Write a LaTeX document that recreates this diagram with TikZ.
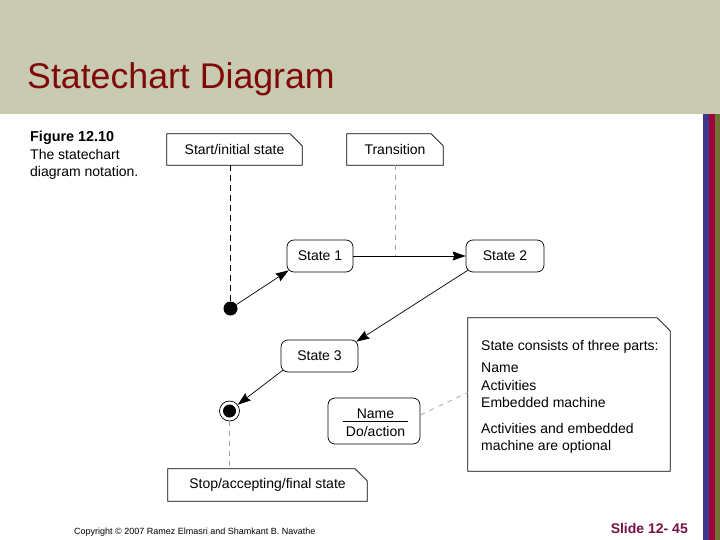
\documentclass[tikz,border=0pt]{standalone}
\usepackage{fontspec}
\setmainfont{Liberation Sans}
\usetikzlibrary{arrows.meta,calc}
\definecolor{band}{RGB}{200,202,177}
\definecolor{titlered}{RGB}{128,8,8}
\definecolor{barblue}{RGB}{60,56,140}
\definecolor{barred}{RGB}{160,0,58}
\definecolor{barolive}{RGB}{110,114,50}
\definecolor{slidered}{RGB}{120,16,64}
\definecolor{dashgray}{RGB}{160,160,160}
\newcommand\noteoutline[2]{\draw[noteline] (#1.north west) -- ([xshift=-#2]#1.north east) -- ([yshift=-#2]#1.north east) -- (#1.south east) -- (#1.south west) -- cycle;}
\begin{document}
\begin{tikzpicture}[x=1pt,y=-1pt,
  txt/.style={font=\fontsize{14}{16}\selectfont, inner sep=0pt},
  notebox/.style={txt, minimum height=31pt},
  noteline/.style={line width=0.7pt},
  statebox/.style={txt, draw, rounded corners=7pt, minimum height=32pt, line width=0.7pt},
  arr/.style={-{Stealth[length=13pt,width=9pt,inset=1.5pt]}, line width=0.7pt},
  blackdash/.style={line width=0.7pt, dash pattern=on 6pt off 4pt},
  graydash/.style={line width=0.7pt, dashgray, dash pattern=on 5pt off 5pt},
  capt/.style={txt, anchor=base west}
]
\useasboundingbox (0,0) rectangle (720,540);
\fill[white] (0,0) rectangle (720,540);
\fill[band] (0,0) rectangle (720,114.5);
\fill[barblue] (702.7,114.5) rectangle (708.7,540);
\fill[barred] (708.7,114.5) rectangle (714.7,540);
\fill[barolive] (714.7,114.5) rectangle (720,540);

\node[anchor=base west, inner sep=0pt, text=titlered, font=\fontsize{35.7}{40}\selectfont] (title) at (27,89) {Statechart Diagram};

% caption
\node[capt, font=\fontsize{14.4}{16}\selectfont\bfseries] (fig) at (30,142) {Figure 12.10};
\node[capt] (cap1) at (30,160) {The statechart};
\node[capt] (cap2) at (30,177) {diagram notation.};

% notes
\node[notebox, minimum width=135pt] (startnote) at (234.5,149.5) {Start/initial state};
\noteoutline{startnote}{12pt}
\node[notebox, minimum width=96pt] (trans) at (395,149.5) {Transition};
\noteoutline{trans}{12pt}
\node[notebox, minimum width=199pt, minimum height=32pt] (stop) at (267.5,485) {Stop/accepting/final state};
\noteoutline{stop}{12pt}
\node[txt, minimum width=202pt, minimum height=153pt] (bignote) at (569,394.5) {};
\noteoutline{bignote}{13pt}
\node[capt] (b1) at (481,350) {State consists of three parts:};
\node[capt] (b2) at (481,372.5) {Name};
\node[capt] (b3) at (481,390) {Activities};
\node[capt] (b4) at (481,407) {Embedded machine};
\node[capt] (b5) at (481,433) {Activities and embedded};
\node[capt] (b6) at (481,450.5) {machine are optional};

% states
\node[statebox, minimum width=66pt] (s1) at (320,256) {State 1};
\node[statebox, minimum width=78pt] (s2) at (505,256) {State 2};
\node[statebox, minimum width=77pt] (s3) at (319.5,356) {State 3};
\node[statebox, minimum width=92pt, minimum height=46pt] (namebox) at (374,421) {};
\node[txt, anchor=base] (nm) at (375.5,418) {Name};
\node[txt, anchor=base] (da) at (375.5,436) {Do/action};
\draw[line width=0.6pt] ($(namebox.west)+(15,0.5)$) -- ($(namebox.east)+(-12,0.5)$);

% initial and final
\node[circle, fill, inner sep=0pt, minimum size=14pt] (init) at (230.5,308.5) {};
\node[circle, draw, line width=0.7pt, inner sep=0pt, minimum size=20pt,
  path picture={\fill (path picture bounding box.center) circle (6.5pt);}] (final) at (229.5,411) {};

% dashed connectors
\draw[blackdash] (startnote.south -| init) -- (init.north);
\draw[graydash] (trans.south) -- (trans.south |- s1.east);
\draw[graydash] (final.south) -- (stop.north -| final);
\draw[graydash] ([yshift=6pt]namebox.east) -- ([yshift=2pt]bignote.west);

% transitions
\draw[arr] (init) -- ([shift={(2,-2)}]s1.south west);
\draw[arr] (s1) -- (s2);
\draw[arr] ([shift={(2,-2)}]s2.south west) -- ([shift={(-2,2)}]s3.north east);
\draw[arr] ([shift={(2,-2)}]s3.south west) -- (final);

% footer
\node[anchor=base west, inner sep=0pt, font=\fontsize{9}{10}\selectfont] (copy) at (74,534) {Copyright © 2007 Ramez Elmasri and Shamkant B. Navathe};
\node[anchor=base east, inner sep=0pt, text=slidered, font=\fontsize{14}{16}\selectfont\bfseries] (slide) at (688,533) {Slide 12- 45};
\end{tikzpicture}
\end{document}
